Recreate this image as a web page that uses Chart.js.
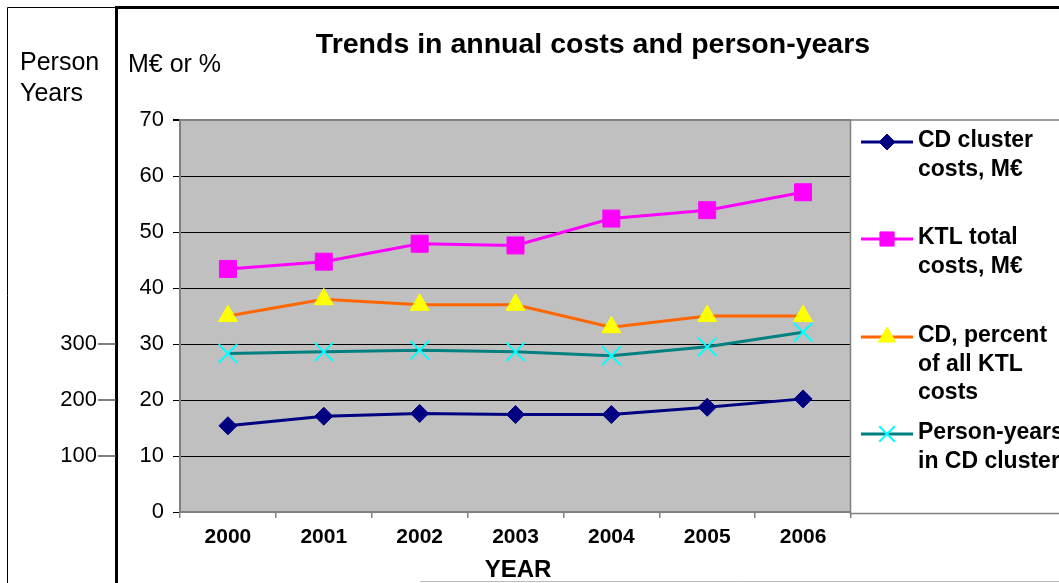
<!DOCTYPE html>
<html>
<head>
<meta charset="utf-8">
<script src="https://cdn.jsdelivr.net/npm/chart.js@4/dist/chart.umd.min.js"></script>
<style>
  html, body { margin: 0; padding: 0; background: #fff; overflow: hidden; }
  canvas { display: block; }
</style>
</head>
<body>
<canvas id="c" width="1059" height="583" style="width:1059px;height:583px"></canvas>
<script>
// ---- data ----
const years = ['2000', '2001', '2002', '2003', '2004', '2005', '2006'];
const cdCosts = [15.4, 17.1, 17.6, 17.4, 17.4, 18.7, 20.2];
const ktlCosts = [43.4, 44.7, 47.9, 47.6, 52.4, 53.9, 57.1];
const cdPercent = [35, 38, 37, 37, 33, 35, 35];
const personYears = [283, 286, 289, 286, 279, 295, 321];
const personTicks = [100, 200, 300];
const legendLines = [
  ['CD cluster', 'costs, M€'],
  ['KTL total', 'costs, M€'],
  ['CD, percent', 'of all KTL', 'costs'],
  ['Person-years', 'in CD cluster']
];
const titleText = 'Trends in annual costs and person-years';
const FONT = '"Liberation Sans", Arial, sans-serif';

const overlay = {
  id: 'overlay',
  beforeDraw(chart) {
    const ctx = chart.ctx, a = chart.chartArea;
    ctx.save();
    ctx.fillStyle = '#fff';
    ctx.fillRect(0, 0, chart.width, chart.height);
    ctx.fillStyle = '#C0C0C0';
    ctx.fillRect(a.left, a.top, a.right - a.left, a.bottom - a.top);
    ctx.restore();
  },
  afterDraw(chart) {
    const ctx = chart.ctx, a = chart.chartArea;
    ctx.save();
    // outer frame lines
    ctx.strokeStyle = '#000';
    ctx.lineWidth = 1;
    ctx.beginPath();
    ctx.moveTo(7.5, 583); ctx.lineTo(7.5, 7.5); ctx.lineTo(116, 7.5);
    ctx.stroke();
    ctx.lineWidth = 3;
    ctx.beginPath();
    ctx.moveTo(116.5, 583); ctx.lineTo(116.5, 7.5); ctx.lineTo(1059, 7.5);
    ctx.stroke();
    ctx.strokeStyle = '#bbb';
    ctx.lineWidth = 1;
    ctx.beginPath();
    ctx.moveTo(420, 581.5); ctx.lineTo(1059, 581.5);
    ctx.stroke();

    // title
    ctx.fillStyle = '#000';
    ctx.textAlign = 'center';
    ctx.textBaseline = 'middle';
    ctx.font = 'bold 28.5px ' + FONT;
    ctx.fillText(titleText, 593, 45);

    // axis captions
    ctx.textAlign = 'left';
    ctx.font = '25px ' + FONT;
    ctx.fillText('Person', 20, 63);
    ctx.fillText('Years', 20, 94);
    ctx.fillText('M€ or %', 128, 65);
    ctx.textAlign = 'center';
    ctx.font = 'bold 24px ' + FONT;
    ctx.fillText('YEAR', 518, 570);

    // person-years axis ticks (secondary scale)
    const y2 = chart.scales.y2;
    ctx.font = '22px ' + FONT;
    ctx.textAlign = 'right';
    ctx.strokeStyle = '#555';
    ctx.lineWidth = 1.5;
    personTicks.forEach(v => {
      const py = y2.getPixelForValue(v);
      ctx.beginPath();
      ctx.moveTo(98, py); ctx.lineTo(116, py);
      ctx.stroke();
      ctx.fillText(String(v), 97, py);
    });

    // legend box
    const lx = 850.5, ly = a.top, lb = 513.5;
    ctx.fillStyle = '#fff';
    ctx.fillRect(lx, ly, 1059 - lx, lb - ly);
    ctx.strokeStyle = '#808080';
    ctx.lineWidth = 1.5;
    ctx.beginPath();
    ctx.moveTo(1060, ly); ctx.lineTo(lx, ly); ctx.lineTo(lx, lb); ctx.lineTo(1060, lb);
    ctx.stroke();

    const itemY = [142, 239, 337, 434];
    const ds = chart.data.datasets;
    ctx.font = 'bold 23px ' + FONT;
    ctx.textAlign = 'left';
    legendLines.forEach((lines, i) => {
      const d = ds[i];
      const y = itemY[i];
      ctx.strokeStyle = d.borderColor;
      ctx.lineWidth = d.borderWidth;
      ctx.beginPath();
      ctx.moveTo(861, y); ctx.lineTo(913, y);
      ctx.stroke();
      ctx.fillStyle = d.pointBackgroundColor;
      ctx.strokeStyle = d.pointBorderColor;
      ctx.lineWidth = d.pointBorderWidth;
      const opts = { pointStyle: d.pointStyle, radius: d.legendRadius, rotation: 0, borderWidth: d.pointBorderWidth };
      if (Chart.helpers && Chart.helpers.drawPoint) {
        Chart.helpers.drawPoint(ctx, opts, 887, y);
      }
      ctx.fillStyle = '#000';
      lines.forEach((t, k) => ctx.fillText(t, 918, y - 1 + k * 28.5));
    });
    ctx.restore();
  }
};

new Chart(document.getElementById('c'), {
  type: 'line',
  data: {
    labels: years,
    datasets: [
      {
        label: legendLines[0].join(' '), data: cdCosts, yAxisID: 'y', order: 3,
        borderColor: '#000080', borderWidth: 3,
        pointStyle: 'rectRot', pointRadius: 9, legendRadius: 8,
        pointBackgroundColor: '#000080', pointBorderColor: '#000080', pointBorderWidth: 1
      },
      {
        label: legendLines[1].join(' '), data: ktlCosts, yAxisID: 'y', order: 2,
        borderColor: '#FF00FF', borderWidth: 3,
        pointStyle: 'rect', pointRadius: 12, legendRadius: 10,
        pointBackgroundColor: '#FF00FF', pointBorderColor: '#FF00FF', pointBorderWidth: 1
      },
      {
        label: legendLines[2].join(' '), data: cdPercent, yAxisID: 'y', order: 1,
        borderColor: '#FF6600', borderWidth: 3,
        pointStyle: 'triangle', pointRadius: 11, legendRadius: 10,
        pointBackgroundColor: '#FFFF00', pointBorderColor: '#FFFF00', pointBorderWidth: 1
      },
      {
        label: legendLines[3].join(' '), data: personYears, yAxisID: 'y2', order: 0,
        borderColor: '#008080', borderWidth: 3,
        pointStyle: 'crossRot', pointRadius: 13, legendRadius: 11,
        pointBackgroundColor: '#00FFFF', pointBorderColor: '#00FFFF', pointBorderWidth: 2
      }
    ]
  },
  options: {
    responsive: false,
    animation: false,
    devicePixelRatio: 1,
    layout: { padding: { left: 0, top: 120, right: 208, bottom: 0 } },
    plugins: { legend: { display: false }, title: { display: false }, tooltip: { enabled: false } },
    scales: {
      x: {
        type: 'category',
        offset: true,
        grid: { drawOnChartArea: false, offset: true, tickLength: 6, color: '#808080', lineWidth: 1.5 },
        border: { display: true, color: '#808080', width: 2 },
        ticks: { color: '#000', font: { family: FONT, size: 21, weight: 'bold' }, padding: 7, maxRotation: 0 },
        afterFit(s) { s.height = 71; }
      },
      y: {
        min: 0, max: 70,
        ticks: { stepSize: 10, color: '#000', font: { family: FONT, size: 22 }, padding: 9 },
        grid: {
          color: c => (c.tick && c.tick.value === 70) ? '#808080' : '#000',
          lineWidth: c => (c.tick && c.tick.value === 70) ? 2 : 1,
          tickColor: '#000', tickLength: 7
        },
        border: { display: true, color: '#808080', width: 2 },
        afterFit(s) { s.width = 180; }
      },
      y2: {
        min: 0, max: 700, display: false, position: 'left'
      }
    }
  },
  plugins: [overlay]
});
</script>
</body>
</html>
